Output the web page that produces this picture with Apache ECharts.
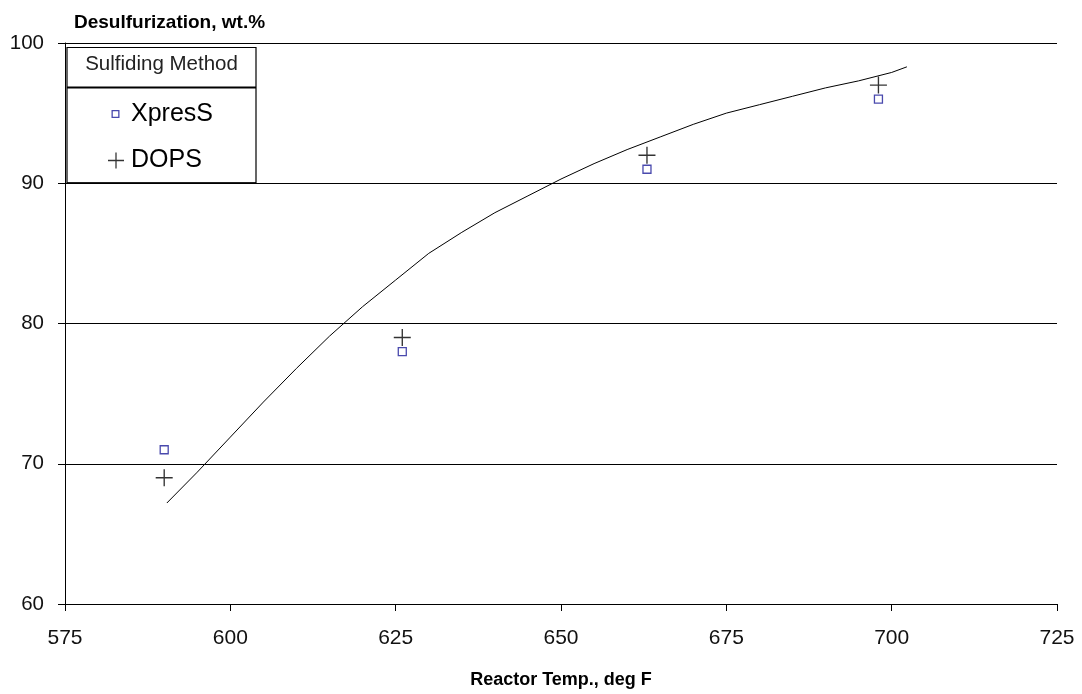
<!DOCTYPE html>
<html>
<head>
<meta charset="utf-8">
<script src="https://cdn.jsdelivr.net/npm/echarts@6/dist/echarts.min.js"></script>
<style>
html,body{margin:0;padding:0;background:#fff;}
#c{width:1082px;height:694px;}
</style>
</head>
<body>
<div id="c"></div>
<script>
// Data
const xpresTemp = [590, 626, 663, 698];
const xpresVal  = [71, 78, 91, 96];
const dopsTemp  = [590, 626, 663, 698];
const dopsVal   = [69, 79, 92, 97];
const curveTemp = [590.4, 595, 600, 605, 610, 615, 620, 625, 630, 635, 640, 645, 650, 655, 660, 665, 670, 675, 680, 685, 690, 695, 700, 702.3];
const curveVal  = [67.2, 69.4, 71.9, 74.4, 76.8, 79.1, 81.2, 83.1, 85.0, 86.5, 87.9, 89.1, 90.3, 91.4, 92.4, 93.3, 94.2, 95.0, 95.6, 96.2, 96.8, 97.3, 97.9, 98.3];
const xTicks = [575, 600, 625, 650, 675, 700, 725];
const yTicks = [60, 70, 80, 90, 100];
const legendTitle = 'Sulfiding Method';
const yTitle = 'Desulfurization, wt.%';
const xTitle = 'Reactor Temp., deg F';

const zip = (a, b) => a.map((v, i) => [v, b[i]]);
const plusPath = 'path://M0,4.6H10V5.4H0Z M4.6,0H5.4V10H4.6Z';
// hollow square ring padded inside a 16x16 box (for the legend icon)
const squareIcon = 'path://M0,0L0.01,0L0,0.01Z M16,16L15.99,16L16,15.99Z M3.5,3.5H11.5V11.5H3.5Z M4.8,4.8V10.2H10.2V4.8Z';
const FONT = '"Liberation Sans", Arial, sans-serif';

const chart = echarts.init(document.getElementById('c'));
chart.setOption({
  animation: false,
  backgroundColor: '#fff',
  textStyle: { fontFamily: FONT },
  grid: { left: 65, right: 25, top: 43, bottom: 90, containLabel: false, outerBoundsMode: 'none' },
  xAxis: {
    type: 'value', min: xTicks[0], max: xTicks[xTicks.length - 1], interval: 25,
    name: xTitle, nameLocation: 'middle', nameGap: 67,
    nameTextStyle: { fontFamily: FONT, fontWeight: 'bold', fontSize: 18, color: '#000' },
    axisLine: { lineStyle: { color: '#000', width: 1 } },
    axisTick: { show: true, length: 7, inside: false, lineStyle: { color: '#000' } },
    axisLabel: { fontFamily: FONT, fontSize: 21, color: '#111', margin: 24 },
    splitLine: { show: false }
  },
  yAxis: {
    type: 'value', min: yTicks[0], max: yTicks[yTicks.length - 1], interval: 10,
    axisLine: { show: true, lineStyle: { color: '#000', width: 1 } },
    axisTick: { show: true, length: 7, lineStyle: { color: '#000' } },
    axisLabel: { fontFamily: FONT, fontSize: 20.5, color: '#111', margin: 21 },
    splitLine: { show: true, lineStyle: { color: '#000', width: 1 } }
  },
  legend: {
    orient: 'vertical', left: 103, top: 96.5, itemGap: 20,
    itemWidth: 16, itemHeight: 16,
    textStyle: { fontFamily: FONT, fontSize: 25, lineHeight: 26, color: '#000', padding: [0, 0, 0, 2] },
    data: [
      { name: 'XpresS', icon: squareIcon, itemStyle: { color: '#1c1c99', borderWidth: 0 } },
      { name: 'DOPS', icon: plusPath, itemStyle: { color: '#000', borderWidth: 0 } }
    ]
  },
  graphic: [
    { type: 'rect', shape: { x: 67, y: 47.5, width: 189, height: 135.5 }, style: { fill: '#fff', stroke: '#000', lineWidth: 1.2 }, z: 0 },
    { type: 'line', shape: { x1: 67, y1: 87.5, x2: 256, y2: 87.5 }, style: { stroke: '#000', lineWidth: 2 }, z: 1 },
    { type: 'line', shape: { x1: 67, y1: 183, x2: 256, y2: 183 }, style: { stroke: '#000', lineWidth: 1.6 }, z: 1 },
    { type: 'text', x: 161.5, y: 64, style: { text: legendTitle, font: '20.5px ' + FONT, fill: '#222', align: 'center', verticalAlign: 'middle' }, z: 1 },
    { type: 'text', x: 74, y: 23, style: { text: yTitle, font: 'bold 19px ' + FONT, fill: '#000', align: 'left', verticalAlign: 'middle' }, z: 1 }
  ],
  series: [
    {
      name: 'fit', type: 'line', data: zip(curveTemp, curveVal), showSymbol: false, symbol: 'none',
      lineStyle: { color: '#000', width: 1 }, z: 3, silent: true
    },
    {
      name: 'XpresS', type: 'scatter', data: zip(xpresTemp, xpresVal), symbol: 'rect', symbolSize: 8,
      itemStyle: { color: '#fff', borderColor: '#1c1c99', borderWidth: 1.3 }, z: 4
    },
    {
      name: 'DOPS', type: 'scatter', data: zip(dopsTemp, dopsVal), symbol: plusPath, symbolSize: 17,
      itemStyle: { color: '#000' }, z: 4
    }
  ]
});
</script>
</body>
</html>
